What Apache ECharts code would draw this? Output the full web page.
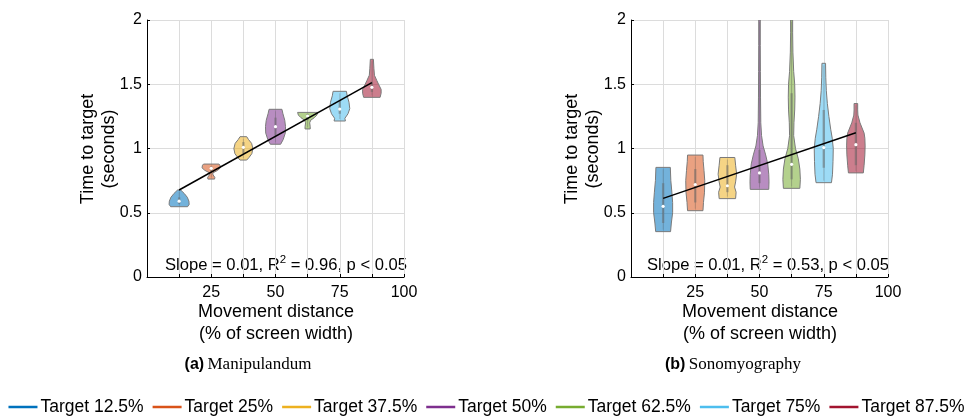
<!DOCTYPE html>
<html><head><meta charset="utf-8">
<script src="https://cdn.jsdelivr.net/npm/echarts@6/dist/echarts.min.js"></script>
<style>html,body{margin:0;padding:0;background:#fff}#c{width:973px;height:417px}</style>
</head><body><div id="c"></div>
<script>
// ---- data ----
const targets = [12.5, 25, 37.5, 50, 62.5, 75, 87.5];
const targetNames = ['Target 12.5%','Target 25%','Target 37.5%','Target 50%','Target 62.5%','Target 75%','Target 87.5%'];
const xTickLabels = [25, 50, 75, 100];
const yTickLabels = [0, 0.5, 1, 1.5, 2];

// Manipulandum: density profiles [time, half-width in % units]
const manipProfiles = [
  [[0.547,3.3],[0.565,3.9],[0.59,3.8],[0.62,3.2],[0.65,2.0],[0.677,0.6]],
  [[0.762,1.3],[0.775,1.4],[0.795,0.7],[0.81,0.6],[0.83,2.5],[0.85,3.6],[0.87,3.4],[0.879,3.0]],
  [[0.91,1.3],[0.93,2.2],[0.96,3.3],[1.0,3.7],[1.04,3.2],[1.07,2.0],[1.092,1.3]],
  [[1.033,2.0],[1.07,3.0],[1.12,3.8],[1.17,3.9],[1.22,3.6],[1.27,2.9],[1.305,2.5]],
  [[1.152,1.0],[1.17,1.0],[1.2,0.8],[1.22,1.2],[1.24,2.6],[1.26,3.6],[1.281,3.9]],
  [[1.214,2.2],[1.235,2.0],[1.27,3.2],[1.31,3.9],[1.36,3.6],[1.41,2.9],[1.445,2.6]],
  [[1.398,3.2],[1.43,3.6],[1.46,3.6],[1.5,2.6],[1.53,1.9],[1.57,1.0],[1.62,0.8],[1.694,0.6]]
];
const manipMedians = [0.59, 0.846, 1.009, 1.17, 1.253, 1.307, 1.476];
const manipQ1 = [0.57, 0.82, 0.96, 1.10, 1.22, 1.27, 1.44];
const manipQ3 = [0.62, 0.86, 1.05, 1.24, 1.27, 1.37, 1.52];
const manipFit = [0.677, 1.512];

// Sonomyography
const sonoProfiles = [
  [[0.353,2.9],[0.42,3.2],[0.5,3.7],[0.58,3.7],[0.66,3.4],[0.75,3.0],[0.853,2.8]],
  [[0.516,3.0],[0.58,3.2],[0.66,3.6],[0.75,3.7],[0.83,3.4],[0.9,3.1],[0.949,3.0]],
  [[0.61,3.2],[0.66,3.4],[0.7,2.8],[0.74,3.2],[0.8,3.6],[0.87,3.2],[0.93,2.9]],
  [[0.682,3.6],[0.74,3.7],[0.8,3.6],[0.88,3.2],[0.95,2.4],[1.02,1.4],[1.1,0.8],[1.2,0.5],[1.4,0.4],[1.6,0.35],[1.8,0.3],[2.0,0.3]],
  [[0.69,3.2],[0.76,3.4],[0.84,3.2],[0.92,2.6],[1.0,1.5],[1.1,0.8],[1.2,0.9],[1.3,1.2],[1.4,1.3],[1.5,1.2],[1.6,0.8],[1.75,0.5],[1.9,0.4],[2.0,0.4]],
  [[0.734,3.0],[0.8,3.4],[0.9,3.6],[1.0,3.7],[1.08,3.3],[1.15,2.7],[1.25,2.0],[1.35,1.4],[1.45,1.0],[1.55,0.8],[1.663,0.7]],
  [[0.81,2.9],[0.87,3.2],[0.95,3.5],[1.02,3.6],[1.08,3.5],[1.12,3.2],[1.2,1.6],[1.26,0.8],[1.3,0.7],[1.35,0.7]]
];
const sonoMedians = [0.55, 0.72, 0.71, 0.81, 0.877, 1.007, 1.03];
const sonoQ1 = [0.42, 0.58, 0.66, 0.73, 0.76, 0.85, 0.87];
const sonoQ3 = [0.73, 0.84, 0.87, 0.99, 1.43, 1.30, 1.20];
const sonoFit = [0.612, 1.123];

// ---- styles ----
const colors = ['#0072BD','#D95319','#EDB120','#7E2F8E','#77AC30','#4DBEEE','#A2142F'];
const SANS = "'Liberation Sans', Arial, sans-serif";
const SERIF = "'Liberation Serif', 'Times New Roman', serif";

function hexA(h, a){
  const r=parseInt(h.slice(1,3),16), g=parseInt(h.slice(3,5),16), b=parseInt(h.slice(5,7),16);
  return 'rgba('+r+','+g+','+b+','+a+')';
}

function violinSeries(idx, profiles, med, q1, q3){
  return {
    type:'custom', xAxisIndex:idx, yAxisIndex:idx, clip:true, silent:true, z:3,
    data: targets.map((t,i)=>[t, med[i], q1[i], q3[i]]),
    renderItem: function(params, api){
      const i = params.dataIndex;
      const xc = api.value(0);
      const prof = profiles[i];
      const right = prof.map(p=>api.coord([xc+p[1], p[0]]));
      const left = prof.slice().reverse().map(p=>api.coord([xc-p[1], p[0]]));
      const c = api.coord([xc, api.value(1)]);
      const a = api.coord([xc, api.value(2)]);
      const b = api.coord([xc, api.value(3)]);
      const lo = api.coord([xc, prof[0][0]]);
      const hi = api.coord([xc, prof[prof.length-1][0]]);
      return {type:'group', children:[
        {type:'polygon', shape:{points:right.concat(left)}, style:{fill:hexA(colors[i],0.55), stroke:'#7a7a7a', lineWidth:1}},
        {type:'line', shape:{x1:c[0], y1:lo[1]-2, x2:c[0], y2:hi[1]+2}, style:{stroke:'rgba(110,110,110,0.35)', lineWidth:1}},
        {type:'rect', shape:{x:c[0]-1.2, y:b[1], width:2.4, height:a[1]-b[1]}, style:{fill:'rgba(100,100,100,0.45)'}},
        {type:'circle', shape:{cx:c[0], cy:c[1], r:1.6}, style:{fill:'#fff'}}
      ]};
    }
  };
}

function fitSeries(idx, fit){
  return {type:'line', xAxisIndex:idx, yAxisIndex:idx, data:[[targets[0],fit[0]],[targets[targets.length-1],fit[1]]],
    symbol:'none', lineStyle:{color:'#000', width:1.5}, silent:true, z:5, legendHoverLink:false};
}

function xAxis(idx){
  return {type:'value', gridIndex:idx, min:0, max:100, interval:12.5,
    axisLine:{lineStyle:{color:'#000'}}, axisTick:{inside:true, length:3, lineStyle:{color:'#000'}},
    splitLine:{show:true, lineStyle:{color:'#dcdcdc'}},
    axisLabel:{color:'#000', fontSize:16, fontFamily:SANS, margin:8,
      formatter:v=>xTickLabels.indexOf(v)>=0 ? String(v) : ''}};
}
function yAxis(idx){
  return {type:'value', gridIndex:idx, min:yTickLabels[0], max:yTickLabels[yTickLabels.length-1], interval:0.5,
    axisLine:{show:true, lineStyle:{color:'#000'}}, axisTick:{show:true, inside:true, length:3, lineStyle:{color:'#000'}},
    splitLine:{show:true, lineStyle:{color:'#dcdcdc'}},
    axisLabel:{color:'#000', fontSize:16, fontFamily:SANS, margin:5, formatter:v=>String(v)}};
}

const legendSeries = targetNames.map((n,i)=>({name:n, type:'line', data:[], xAxisIndex:0, yAxisIndex:0,
  itemStyle:{color:colors[i]}, lineStyle:{color:colors[i], width:2.5}, symbol:'none'}));

function txt(x,y,text,opt){
  return {type:'text', x:x, y:y, style:Object.assign({text:text, fill:'#000', font:'18px '+SANS, textAlign:'center', textVerticalAlign:'middle'}, opt||{})};
}

const slopeRich = {
  n:{fontSize:16.6, fontFamily:SANS, color:'#000', lineHeight:22},
  s:{fontSize:11.5, fontFamily:SANS, color:'#000', lineHeight:22, padding:[0,0,10,0]}
};
const capRich = {
  b:{fontSize:16, fontWeight:'bold', fontFamily:SANS, color:'#000'},
  r:{fontSize:17, fontFamily:SERIF, color:'#000'}
};

const option = {
  animation:false,
  grid:[{left:147, top:20, width:257, height:257},{left:631, top:20, width:257, height:257}],
  xAxis:[xAxis(0), xAxis(1)],
  yAxis:[yAxis(0), yAxis(1)],
  legend:{data:targetNames, left:'center', top:393, icon:'rect', itemWidth:29, itemHeight:2.5, itemGap:9,
    textStyle:{fontSize:17.5, fontFamily:SANS, color:'#000', padding:[0,0,0,-2]}},
  series:[violinSeries(0, manipProfiles, manipMedians, manipQ1, manipQ3), fitSeries(0, manipFit),
          violinSeries(1, sonoProfiles, sonoMedians, sonoQ1, sonoQ3), fitSeries(1, sonoFit)].concat(legendSeries),
  graphic:[
    Object.assign(txt(99,149,'Time to target\n(seconds)',{lineHeight:21}),{rotation:Math.PI/2}),
    Object.assign(txt(583,149,'Time to target\n(seconds)',{lineHeight:21}),{rotation:Math.PI/2}),
    txt(276,323,'Movement distance\n(% of screen width)',{lineHeight:22}),
    txt(760,323,'Movement distance\n(% of screen width)',{lineHeight:22}),
    {type:'text', x:286, y:265, style:{rich:slopeRich, text:'{n|Slope = 0.01, R}{s|2}{n| = 0.96, p < 0.05}', textAlign:'center', textVerticalAlign:'middle'}},
    {type:'text', x:768, y:265, style:{rich:slopeRich, text:'{n|Slope = 0.01, R}{s|2}{n| = 0.53, p < 0.05}', textAlign:'center', textVerticalAlign:'middle'}},
    {type:'text', x:248, y:365, style:{rich:capRich, text:'{b|(a)} {r|Manipulandum}', textAlign:'center', textVerticalAlign:'middle'}},
    {type:'text', x:733, y:365, style:{rich:capRich, text:'{b|(b)} {r|Sonomyography}', textAlign:'center', textVerticalAlign:'middle'}}
  ]
};

const chart = echarts.init(document.getElementById('c'), null, {renderer:'canvas'});
chart.setOption(option);
</script>
</body></html>
